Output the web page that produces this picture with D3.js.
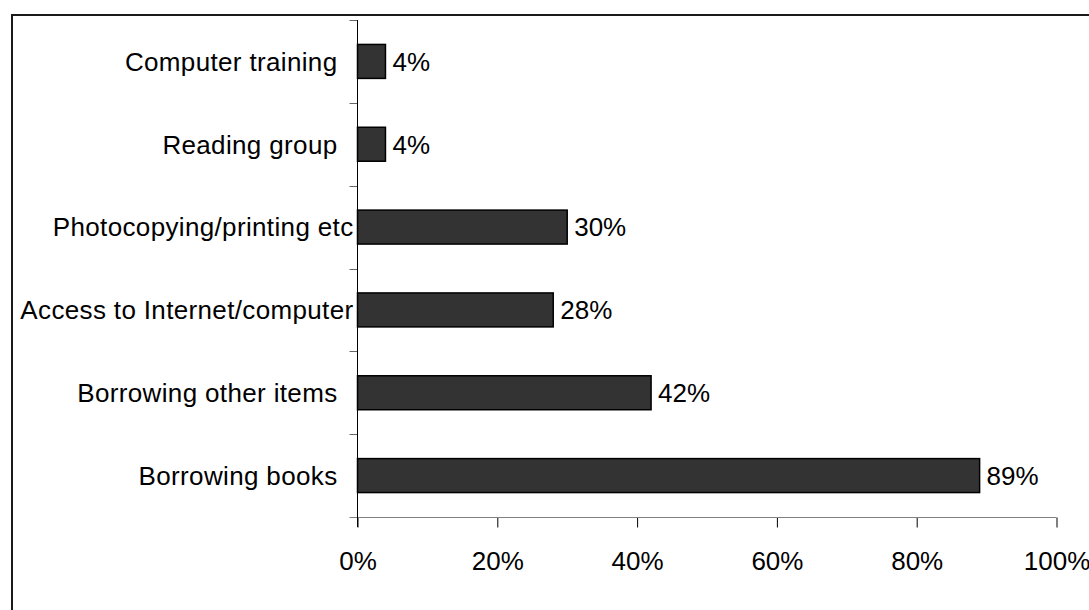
<!DOCTYPE html>
<html>
<head>
<meta charset="utf-8">
<script src="https://cdn.jsdelivr.net/npm/d3@7"></script>
<style>
  html, body { margin: 0; padding: 0; background: #fff; }
  svg { display: block; font-family: "Liberation Sans", Arial, sans-serif; }
</style>
</head>
<body>
<svg id="chart" width="1089" height="610"></svg>
<script>
const categories = [
  "Computer training",
  "Reading group",
  "Photocopying/printing etc",
  "Access to Internet/computer",
  "Borrowing other items",
  "Borrowing books"
];
const values = [4, 4, 30, 28, 42, 89];
const xTicks = [0, 20, 40, 60, 80, 100];

(function () {
const svg = d3.select("#chart");
const pLeft = 357.5, pRight = 1056.5, pTop = 20, pBottom = 517;

// outer frame (only top/left visible)
svg.append("rect")
  .attr("x", 12).attr("y", 15)
  .attr("width", 1200).attr("height", 800)
  .attr("fill", "none").attr("stroke", "#1a1a1a").attr("stroke-width", 2);

const x = d3.scaleLinear().domain([0, 100]).range([pLeft, pRight]);
const y = d3.scaleBand().domain(categories).range([pTop, pBottom])
  .paddingInner(0.59).paddingOuter(0.295);

const step = y.step();
const gap = (step - y.bandwidth()) / 2;

// x axis
const xa = svg.append("g").attr("transform", `translate(0,${pBottom + 0.5})`)
  .call(d3.axisBottom(x).tickValues(xTicks).tickFormat(d => d + "%").tickSize(10).tickPadding(24));
xa.select(".domain").remove();
xa.selectAll(".tick line").attr("stroke", "#000");
xa.selectAll(".tick text").attr("font-size", 26).attr("fill", "#000")
  .attr("font-family", "'Liberation Sans', Arial, sans-serif");
svg.append("line")
  .attr("x1", pLeft - 8).attr("x2", pRight)
  .attr("y1", pBottom + 0.5).attr("y2", pBottom + 0.5)
  .attr("stroke", "#808080").attr("stroke-width", 1.2);

// y axis ticks at band boundaries
categories.forEach(c => {
  const yy = Math.round(y(c) - gap) + 0.5;
  svg.append("line")
    .attr("x1", pLeft - 8).attr("x2", pLeft)
    .attr("y1", yy).attr("y2", yy)
    .attr("stroke", "#666").attr("stroke-width", 1);
});
svg.append("line")
  .attr("x1", pLeft).attr("x2", pLeft)
  .attr("y1", pTop).attr("y2", pBottom + 10)
  .attr("stroke", "#000").attr("stroke-width", 1);

// bars
svg.selectAll("rect.bar").data(categories).enter().append("rect")
  .attr("class", "bar")
  .attr("x", pLeft)
  .attr("y", c => y(c))
  .attr("width", (c, i) => x(values[i]) - x(0))
  .attr("height", y.bandwidth())
  .attr("fill", "#333333")
  .attr("stroke", "#000")
  .attr("stroke-width", 1.5);

// value labels
svg.selectAll("text.val").data(categories).enter().append("text")
  .attr("class", "val")
  .attr("x", (c, i) => x(values[i]) + 7)
  .attr("y", c => y(c) + y.bandwidth() / 2)
  .attr("dy", "0.36em")
  .attr("font-size", 26)
  .attr("fill", "#000")
  .text((c, i) => values[i] + "%");

// category labels
svg.selectAll("text.cat").data(categories).enter().append("text")
  .attr("class", "cat")
  .attr("y", c => y(c) + y.bandwidth() / 2)
  .attr("dy", "0.36em")
  .attr("font-size", 26)
  .attr("letter-spacing", 0.35)
  .attr("text-anchor", "end")
  .attr("fill", "#000")
  .text(c => c)
  .attr("x", function () {
    const w = this.getComputedTextLength();
    return w > 285 ? pLeft - 4 : pLeft - 20;
  });
})();
</script>
</body>
</html>
